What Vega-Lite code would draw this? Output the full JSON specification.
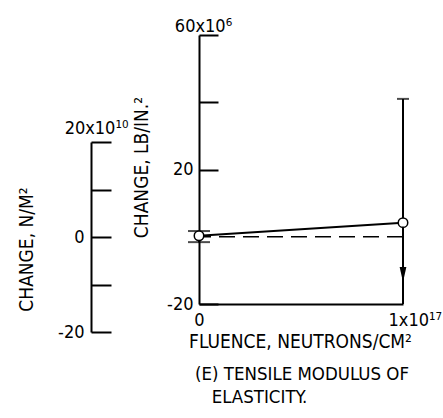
{
  "$schema": "https://vega.github.io/schema/vega-lite/v6.json",
  "width": 204,
  "height": 269,
  "autosize": {"type": "none"},
  "padding": {"left": 199, "top": 35, "right": 40, "bottom": 114},
  "background": "white",
  "config": {
    "view": {"stroke": null},
    "font": "DejaVu Sans Condensed",
    "axis": {
      "grid": false,
      "domainColor": "black",
      "tickColor": "black",
      "labelColor": "black",
      "titleColor": "black",
      "domainWidth": 2,
      "tickWidth": 2,
      "labelFont": "DejaVu Sans Condensed",
      "titleFont": "DejaVu Sans Condensed",
      "labelFontSize": 18,
      "titleFontSize": 19,
      "titleFontWeight": "normal",
      "labelOverlap": false,
      "labelFlush": false,
      "labelBound": false
    }
  },
  "title": {
    "text": ["(E) TENSILE MODULUS OF", "\u200b\u2002\u2002ELASTICITY."],
    "orient": "bottom",
    "anchor": "start",
    "frame": "group",
    "font": "DejaVu Sans Condensed",
    "fontSize": 18.5,
    "fontWeight": "normal",
    "color": "black",
    "lineHeight": 23,
    "dx": -4,
    "offset": 14
  },
  "datasets": {
    "points": [{"fluence": 0, "change": 0.3}, {"fluence": 1, "change": 4.2}],
    "bars": [{"fluence": 0, "change": 1.7, "change2": -1.6}, {"fluence": 1, "change": 41, "change2": -20}],
    "caps0": [{"fluence": 0, "change": 1.7}, {"fluence": 0, "change": -1.6}],
    "caps1": [{"fluence": 1, "change": 41}],
    "arrow": [{"fluence": 1, "change": -11.2}],
    "baseline": [{"change": 0}],
    "nm": [{"nm": -20}, {"nm": 20}]
  },
  "resolve": {"scale": {"y": "independent"}},
  "layer": [
    {
      "layer": [
        {
          "data": {"name": "points"},
          "mark": {"type": "line", "color": "black", "strokeWidth": 2},
          "encoding": {
            "x": {
              "field": "fluence",
              "type": "quantitative",
              "scale": {"domain": [0, 1], "nice": false},
              "axis": {
                "values": [0, 1],
                "ticks": false,
                "labelExpr": "datum.value == 1 ? '1x10¹⁷' : '0'",
                "labelAlign": {"condition": {"test": "datum.value == 1", "value": "left"}, "value": "center"},
                "labelOffset": {"condition": {"test": "datum.value == 1", "value": -15}, "value": 0},
                "labelBaseline": "top",
                "labelPadding": 7,
                "title": "FLUENCE, NEUTRONS/CM²",
                "titleX": 101,
                "titleY": 43,
                "titleAlign": "center",
                "titleBaseline": "alphabetic"
              }
            },
            "y": {
              "field": "change",
              "type": "quantitative",
              "scale": {"domain": [-20, 60], "nice": false, "zero": false},
              "axis": {
                "values": [-20, 20, 40, 60],
                "tickSize": -19,
                "labelExpr": "datum.value == 60 ? '60x10⁶' : datum.value == 40 ? '' : datum.value == 20 ? '20' : '-20'",
                "labelAlign": {"condition": {"test": "datum.value == 60", "value": "center"}, "value": "right"},
                "labelBaseline": {"condition": {"test": "datum.value == 60", "value": "alphabetic"}, "value": "middle"},
                "labelPadding": {"condition": {"test": "datum.value == 60", "value": 15}, "value": 25},
                "labelOffset": {"condition": {"test": "datum.value == 60", "value": -4}, "value": 0},
                "title": "CHANGE, LB/IN.²",
                "titleX": -58,
                "titleY": 132,
                "titleAngle": -90,
                "titleAlign": "center",
                "titleBaseline": "middle"
              }
            }
          }
        },
        {
          "data": {"name": "baseline"},
          "mark": {"type": "rule", "color": "black", "strokeWidth": 1.5, "strokeDash": [16, 8]},
          "encoding": {"y": {"field": "change", "type": "quantitative"}}
        },
        {
          "data": {"name": "bars"},
          "mark": {"type": "rule", "color": "black", "strokeWidth": 2},
          "encoding": {
            "x": {"field": "fluence", "type": "quantitative"},
            "y": {"field": "change", "type": "quantitative"},
            "y2": {"field": "change2"}
          }
        },
        {
          "data": {"name": "caps0"},
          "mark": {"type": "tick", "orient": "horizontal", "color": "black", "size": 22, "thickness": 2},
          "encoding": {
            "x": {"field": "fluence", "type": "quantitative"},
            "y": {"field": "change", "type": "quantitative"}
          }
        },
        {
          "data": {"name": "caps1"},
          "mark": {"type": "tick", "orient": "horizontal", "color": "black", "size": 12, "thickness": 2},
          "encoding": {
            "x": {"field": "fluence", "type": "quantitative"},
            "y": {"field": "change", "type": "quantitative"}
          }
        },
        {
          "data": {"name": "arrow"},
          "mark": {"type": "point", "shape": "M0,1L-0.45,-1L0.45,-1Z", "filled": true, "color": "black", "size": 225, "opacity": 1},
          "encoding": {
            "x": {"field": "fluence", "type": "quantitative"},
            "y": {"field": "change", "type": "quantitative"}
          }
        },
        {
          "data": {"name": "points"},
          "mark": {"type": "point", "shape": "circle", "filled": true, "fill": "white", "stroke": "black", "strokeWidth": 1.5, "size": 90, "opacity": 1},
          "encoding": {
            "x": {"field": "fluence", "type": "quantitative"},
            "y": {"field": "change", "type": "quantitative"}
          }
        }
      ]
    },
    {
      "data": {"name": "nm"},
      "mark": {"type": "point", "opacity": 0},
      "encoding": {
        "y": {
          "field": "nm",
          "type": "quantitative",
          "scale": {"domain": [-20, 20], "range": [297, 107], "nice": false, "zero": false},
          "axis": {
            "orient": "left",
            "offset": 108,
            "values": [-20, -10, 0, 10, 20],
            "tickSize": -20,
            "labelExpr": "datum.value == 20 ? '20x10¹⁰' : datum.value == 0 ? '0' : datum.value == -20 ? '-20' : ''",
            "labelAlign": {"condition": {"test": "datum.value == 20", "value": "center"}, "value": "right"},
            "labelBaseline": {"condition": {"test": "datum.value == 20", "value": "alphabetic"}, "value": "middle"},
            "labelPadding": {"condition": {"test": "datum.value == 20", "value": 15}, "value": 27},
            "labelOffset": {"condition": {"test": "datum.value == 20", "value": -9}, "value": 0},
            "title": "CHANGE, N/M²",
            "titleX": -65,
            "titleY": 214,
            "titleAngle": -90,
            "titleAlign": "center",
            "titleBaseline": "middle"
          }
        }
      }
    }
  ]
}
